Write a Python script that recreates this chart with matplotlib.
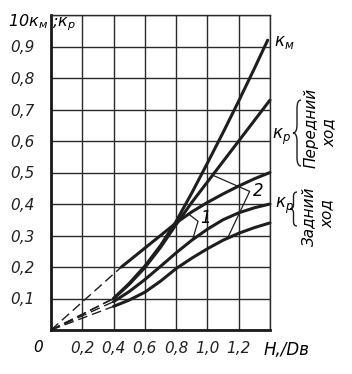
import numpy as np
import matplotlib
matplotlib.use("Agg")
import matplotlib.pyplot as plt
from matplotlib.path import Path
from matplotlib.patches import PathPatch

# ---- data ----
x_km = [0.4, 0.5, 0.6, 0.7, 0.8, 0.9, 1.0, 1.1, 1.2, 1.3, 1.385]
km10 = [0.10, 0.148, 0.203, 0.268, 0.345, 0.435, 0.53, 0.627, 0.727, 0.83, 0.92]

x_fwd2 = [0.4, 0.5, 0.6, 0.7, 0.8, 0.9, 1.0, 1.1, 1.2, 1.3, 1.4]
kp_fwd2 = [0.10, 0.145, 0.198, 0.262, 0.335, 0.405, 0.47, 0.535, 0.60, 0.665, 0.73]

x_fwd1 = [0.45, 0.5, 0.6, 0.7, 0.8, 0.9, 1.0, 1.1, 1.2, 1.3, 1.4]
kp_fwd1 = [0.20, 0.22, 0.26, 0.30, 0.34, 0.375, 0.405, 0.432, 0.457, 0.48, 0.50]

x_rev = [0.4, 0.5, 0.6, 0.7, 0.8, 0.9, 1.0, 1.1, 1.2, 1.3, 1.4]
kp_rev1 = [0.09, 0.122, 0.16, 0.202, 0.245, 0.285, 0.32, 0.35, 0.372, 0.388, 0.40]
kp_rev2 = [0.075, 0.095, 0.12, 0.155, 0.195, 0.228, 0.258, 0.285, 0.307, 0.325, 0.34]

x_ticks = [0.0, 0.2, 0.4, 0.6, 0.8, 1.0, 1.2, 1.4]
x_tick_labels = ["", "0,2", "0,4", "0,6", "0,8", "1,0", "1,2", ""]
y_ticks = [0.0, 0.1, 0.2, 0.3, 0.4, 0.5, 0.6, 0.7, 0.8, 0.9, 1.0]
y_tick_labels = ["", "0,1", "0,2", "0,3", "0,4", "0,5", "0,6", "0,7", "0,8", "0,9", ""]

# ---- figure ----
W, H = 352, 374
fig = plt.figure(figsize=(W / 100, H / 100), dpi=100)
fig.patch.set_facecolor("white")

L, R, B, T = 51, 270, 330, 15  # pixel frame of the grid
ax = fig.add_axes([L / W, 1 - B / H, (R - L) / W, (B - T) / H])
ax.set_xlim(0, 1.4)
ax.set_ylim(0, 1.0)
ax.set_xticks(x_ticks)
ax.set_xticklabels(x_tick_labels)
ax.set_yticks(y_ticks)
ax.set_yticklabels(y_tick_labels)
ax.tick_params(length=0, labelsize=11, colors="#222222")
ax.tick_params(axis="x", pad=8)
ax.tick_params(axis="y", pad=12)
for lab in ax.get_xticklabels() + ax.get_yticklabels():
    lab.set_fontstyle("italic")
ax.grid(True, color="#2a2a2a", linewidth=1.0)
ax.set_axisbelow(True)
for s in ["top", "right"]:
    ax.spines[s].set_linewidth(1.0)
    ax.spines[s].set_color("#2a2a2a")
for s in ["left", "bottom"]:
    ax.spines[s].set_linewidth(2.0)
    ax.spines[s].set_color("#1a1a1a")

lc = "#1e1e1e"
lw = 2.2
curves = [(x_km, km10), (x_fwd2, kp_fwd2), (x_fwd1, kp_fwd1),
          (x_rev, kp_rev1), (x_rev, kp_rev2)]
for xs, ys in curves:
    ax.plot(xs, ys, color=lc, linewidth=lw, solid_capstyle="round",
            solid_joinstyle="round", clip_on=False)
    ax.plot([0, xs[0]], [0, ys[0]], color=lc, linewidth=1.0,
            dashes=(7, 3.5), clip_on=False)

# leader lines for curve groups 1 and 2
ax.plot([0.88, 0.94, 0.905], [0.368, 0.345, 0.287], color=lc, linewidth=0.9)
ax.text(0.99, 0.355, "1", fontsize=12, fontstyle="italic", ha="center", va="center")
ax.plot([1.04, 1.27, 1.13], [0.49, 0.44, 0.293], color=lc, linewidth=0.9)
ax.text(1.325, 0.44, "2", fontsize=12, fontstyle="italic", ha="center", va="center")


def fx(px):
    return px / W


def fy(py):
    return 1 - py / H


# axis captions
fig.text(fx(8), fy(26), "10к$_{м}$ ;к$_{р}$", fontsize=11.5, fontstyle="italic",
         ha="left", va="baseline")
fig.text(fx(38), fy(348), "0", fontsize=11, fontstyle="italic", ha="center", va="center")
fig.text(fx(264), fy(355), "H,/Dв", fontsize=12, fontstyle="italic",
         ha="left", va="baseline")

# right-side labels
fig.text(fx(274), fy(46), "к$_{м}$", fontsize=12, fontstyle="italic",
         ha="left", va="baseline")
fig.text(fx(272), fy(139), "к$_{р}$", fontsize=12, fontstyle="italic",
         ha="left", va="baseline")
fig.text(fx(275), fy(208), "к$_{р}$", fontsize=12, fontstyle="italic",
         ha="left", va="baseline")
fig.text(fx(311), fy(128), "Передний", fontsize=11, fontstyle="italic",
         rotation=90, ha="center", va="center")
fig.text(fx(329), fy(133), "ход", fontsize=11, fontstyle="italic",
         rotation=90, ha="center", va="center")
fig.text(fx(309), fy(216), "Задний", fontsize=11, fontstyle="italic",
         rotation=90, ha="center", va="center")
fig.text(fx(327), fy(214), "ход", fontsize=11, fontstyle="italic",
         rotation=90, ha="center", va="center")


def brace(x, y0, y1, w):
    # "{"-shaped brace in pixel coordinates, tip to the left
    ym = (y0 + y1) / 2
    verts = [
        (x + w, y0), (x + w / 2, y0), (x + w / 2, y0 + (ym - y0) * 0.25),
        (x + w / 2, ym - (ym - y0) * 0.25), (x + w / 2, ym), (x, ym),
        (x + w / 2, ym), (x + w / 2, ym + (y1 - ym) * 0.25),
        (x + w / 2, y1 - (y1 - ym) * 0.25), (x + w / 2, y1), (x + w, y1),
    ]
    codes = [Path.MOVETO, Path.CURVE3, Path.CURVE3, Path.LINETO,
             Path.CURVE3, Path.CURVE3, Path.CURVE3, Path.CURVE3,
             Path.LINETO, Path.CURVE3, Path.CURVE3]
    pts = [(fx(a), fy(b)) for a, b in verts]
    patch = PathPatch(Path(pts, codes), transform=fig.transFigure,
                      facecolor="none", edgecolor=lc, linewidth=1.0)
    fig.add_artist(patch)


brace(293, 100, 166, 8)
brace(290, 192, 226, 7)

fig.savefig("out.png", dpi=100, facecolor="white")
